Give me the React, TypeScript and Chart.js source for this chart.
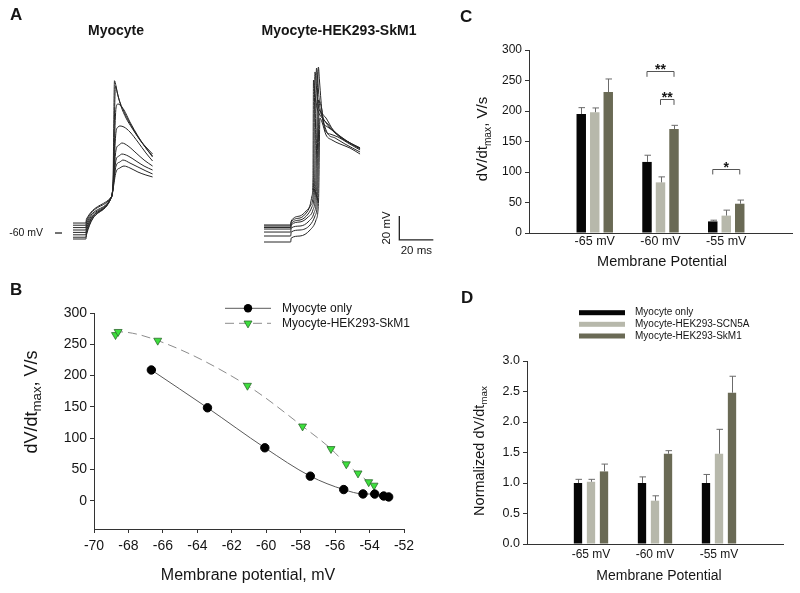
import React, { useEffect, useRef } from 'react';
import { Chart, registerables } from 'chart.js';

Chart.register(...registerables);

const FONT = '"Liberation Sans", Arial, Helvetica, sans-serif';
const INK = '#151515';

// ---------- Panel A: action potential traces, [time ms, membrane potential mV]
const MYO_T1 = [[0,-51.7],[7.6,-51.7],[7.9,-48.4],[22.6,-30],[23.5,-20],[24.4,66.9],[25.3,62.5],[26.5,54.2],[28.2,45.8],[31.2,35.8],[34.7,27.5],[39.4,17.5],[42.9,11.7],[46.8,5.8]];
const MYO_T2 = [[0,-53.5],[7.6,-53.5],[7.9,-50.2],[22.6,-30],[23.5,-22],[25,62.5],[25.9,57.5],[27.6,49.2],[30.6,39.2],[34.7,28.3],[39.4,17.5],[42.9,10.8],[46.8,4.2]];
const MYO_T3 = [[0,-55.5],[7.6,-55.5],[7.9,-52.2],[22.6,-30],[23.5,-22],[25.3,44.2],[26.5,47.5],[27.6,46.7],[30,42.5],[33.5,32.5],[38.2,20.8],[42.9,10.8],[46.8,3.3]];
const MYO_T4 = [[0,-57.5],[7.6,-57.5],[7.9,-54.2],[22.6,-30],[23.5,-22],[25.3,24.2],[26.5,28.3],[27.6,29.2],[30,28.3],[33.5,24.2],[38.2,15.8],[42.9,6.7],[46.8,0]];
const MYO_T5 = [[0,-59.5],[7.6,-59.5],[7.9,-56.2],[22.6,-30],[23.5,-22],[25.3,9.2],[27.1,13.3],[28.8,15],[32.4,12.5],[37.1,6.7],[41.8,0.8],[46.8,-4.2]];
const MYO_T6 = [[0,-61.5],[7.6,-61.5],[7.9,-58.2],[22.6,-30],[23.5,-23],[25.3,0.8],[27.1,4.2],[28.8,5.8],[32.4,4.2],[37.1,0],[41.8,-4.2],[46.8,-7.5]];
const MYO_T7 = [[0,-63.5],[7.6,-63.5],[7.9,-60.2],[22.6,-30],[23.5,-23],[25.3,-4.2],[27.6,-0.8],[29.4,0.8],[33.5,-1.7],[38.2,-5],[42.9,-8.3],[46.8,-10.8]];
const MYO_T8 = [[0,-65],[7.6,-65],[7.9,-61.7],[22.6,-30],[23.5,-24],[25.3,-9.2],[27.6,-5.8],[30,-4.2],[33.5,-5.8],[38.2,-9.2],[42.9,-11.7],[46.8,-13.3]];

const SKM_T1 = [[0,-53.3],[15.7,-53.3],[16,-50],[21.2,-45.8],[24.7,-41.7],[27.1,-36.7],[28.2,-29.2],[28.8,-15.8],[29.1,67.5],[30,55],[31.2,44.2],[32.9,38.3],[35.3,34.2],[38.8,27.5],[44.7,20],[50.6,15],[56.5,10.8]];
const SKM_T2 = [[0,-54.2],[15.7,-54.2],[16,-50.8],[21.2,-47.5],[25.3,-42.5],[27.6,-36.7],[29.1,-24.2],[30,74.2],[30.9,60.8],[31.8,46.7],[33.5,40.8],[36.5,35.8],[40.6,25.8],[44.7,20],[50.6,15],[56.5,10.8]];
const SKM_T3 = [[0,-55.4],[15.7,-55.4],[16,-52.1],[21.2,-49.2],[25.9,-44.2],[28.2,-38.3],[29.7,-24.2],[30.9,77.5],[31.8,63.3],[32.9,44.2],[34.7,35.8],[37.6,30.8],[41.8,24.2],[45.9,19.2],[50.6,15],[56.5,10.8]];
const SKM_T4 = [[0,-56.7],[15.7,-56.7],[16,-53.3],[21.2,-50.8],[25.9,-46.7],[28.8,-40.8],[30.3,-25.8],[32,78.3],[32.6,67.5],[33.5,50.8],[34.7,32.5],[36.5,29.2],[40,25.8],[44.7,20.8],[50.6,15],[56.5,10]];
const SKM_T5 = [[0,-59.2],[15.7,-59.2],[16,-55.8],[21.2,-54.2],[26.5,-50],[29.4,-43.3],[30.9,-28.3],[32.1,50.8],[32.9,49.2],[34.1,42.5],[35.9,25.8],[38.8,22.5],[43.5,20],[49.4,15],[56.5,9.2]];
const SKM_T6 = [[0,-62.5],[15.7,-62.5],[16,-59.2],[21.2,-57.5],[27.1,-53.3],[30,-45.8],[31.5,-30.8],[32.4,42.5],[33.5,40.8],[35.3,30.8],[37.6,22.5],[41.8,19.2],[47.6,14.2],[56.5,7.5]];
const SKM_T7 = [[0,-67.5],[15.7,-67.5],[16,-64.2],[21.2,-62.5],[27.1,-57.5],[30.6,-49.2],[32.1,-32.5],[32.9,35.8],[34.1,32.5],[36.5,21.7],[40,17.5],[44.7,14.2],[50.6,10.8],[56.5,5.8]];

const MYO_TRACES = [MYO_T1, MYO_T2, MYO_T3, MYO_T4, MYO_T5, MYO_T6, MYO_T7, MYO_T8];
const SKM_TRACES = [SKM_T1, SKM_T2, SKM_T3, SKM_T4, SKM_T5, SKM_T6, SKM_T7];
const REF_MV = -60;
const SCALE_MS = 20;
const SCALE_MV = 20;
const SCALE_ORIGIN_MS = 79.6;
const SCALE_ORIGIN_MV = -65.8;

// ---------- Panel B: dV/dt max vs membrane potential
const B_MYO_MV = [-66.67, -63.41, -60.08, -57.44, -55.5, -54.38, -53.7, -53.18, -52.89];
const B_MYO_DVDT = [209, 148.6, 84.7, 39.4, 18, 11, 10.8, 7.7, 6.2];
const B_SKM_MV = [-68.75, -68.6, -66.3, -61.09, -57.89, -56.24, -55.35, -54.67, -54.05, -53.74];
const B_SKM_DVDT = [265, 270, 256, 184, 119, 83, 58.6, 44, 30, 24.5];

// ---------- Panels C & D: grouped bars
const GROUPS = ['-65 mV', '-60 mV', '-55 mV'];
const SERIES = ['Myocyte only', 'Myocyte-HEK293-SCN5A', 'Myocyte-HEK293-SkM1'];
const COLORS = ['#060606', '#b7b8ab', '#6a6a55'];

const C_MYO = [195, 116.5, 19];
const C_SCN = [198, 83, 28.5];
const C_SKM = [231, 170.5, 48];
const C_MYO_ERR = [10.5, 11, 2];
const C_SCN_ERR = [7, 9, 9];
const C_SKM_ERR = [21.5, 6, 6];

const SIG_GROUP = [1, 1, 2];
const SIG_FROM = [0, 1, 0];
const SIG_TO = [2, 2, 2];
const SIG_LEVEL = [265, 219, 105];
const SIG_MARK = ['**', '**', '*'];
const SIG_DROP = 9;

const D_MYO = [1.0, 1.0, 1.0];
const D_SCN = [1.02, 0.71, 1.48];
const D_SKM = [1.19, 1.48, 2.48];
const D_MYO_ERR = [0.06, 0.1, 0.14];
const D_SCN_ERR = [0.04, 0.08, 0.4];
const D_SKM_ERR = [0.12, 0.05, 0.27];

// ---------- helpers
const f = (size: number, bold = false) => `${bold ? 'bold ' : ''}${size}px ${FONT}`;

function txt(ctx: any, s: string, x: number, y: number, size: number, opt: any = {}) {
  ctx.save();
  ctx.font = f(size, !!opt.bold);
  ctx.fillStyle = opt.color || INK;
  ctx.textAlign = opt.align || 'center';
  ctx.textBaseline = opt.baseline || 'middle';
  ctx.translate(x, y);
  if (opt.rotate) ctx.rotate(-Math.PI / 2);
  ctx.fillText(s, 0, 0);
  ctx.restore();
}

function subTitle(ctx: any, x: number, y: number, pre: string, sub: string, post: string, size: number, ratio = 0.68) {
  ctx.save();
  ctx.translate(x, y);
  ctx.rotate(-Math.PI / 2);
  ctx.fillStyle = INK;
  ctx.textBaseline = 'middle';
  ctx.textAlign = 'left';
  const s2 = size * ratio;
  ctx.font = f(size); const w1 = ctx.measureText(pre).width;
  ctx.font = f(s2); const w2 = ctx.measureText(sub).width;
  ctx.font = f(size); const w3 = ctx.measureText(post).width;
  let cx = -(w1 + w2 + w3) / 2;
  ctx.font = f(size); ctx.fillText(pre, cx, 0); cx += w1;
  ctx.font = f(s2); ctx.fillText(sub, cx, size * 0.32); cx += w2;
  ctx.font = f(size); ctx.fillText(post, cx, 0);
  ctx.restore();
}

const xy = (arr: number[][]) => arr.map(([x, y]) => ({ x, y }));

function CanvasChart({ left, top, width, height, make }: any) {
  const ref = useRef<HTMLCanvasElement>(null);
  useEffect(() => {
    if (!ref.current) return;
    const chart = new Chart(ref.current, make());
    return () => chart.destroy();
  }, []);
  return (
    <canvas
      ref={ref}
      width={width}
      height={height}
      style={{ position: 'absolute', left, top, width, height, display: 'block' }}
    />
  );
}

// ---------- Panel A configs
const TRACE_Y_MIN = -90.83;
const TRACE_Y_MAX = 134.17;

function traceConfig(traces: number[][][], xMin: number, xMax: number, extra: any[], plugin: any) {
  return {
    type: 'scatter',
    data: {
      datasets: [
        ...traces.map((tr) => ({
          data: xy(tr),
          showLine: true,
          borderColor: '#262626',
          borderWidth: 1,
          pointRadius: 0,
          cubicInterpolationMode: 'monotone',
          fill: false,
        })),
        ...extra,
      ],
    },
    options: {
      responsive: false,
      animation: false,
      events: [],
      layout: { padding: 0 },
      plugins: { legend: { display: false }, tooltip: { enabled: false } },
      scales: {
        x: { type: 'linear', display: false, min: xMin, max: xMax },
        y: { type: 'linear', display: false, min: TRACE_Y_MIN, max: TRACE_Y_MAX },
      },
    },
    plugins: [plugin],
  };
}

const makeALeft = () =>
  traceConfig(MYO_TRACES, -42.94, 92.35, [], {
    id: 'aLeft',
    afterDraw(chart: any) {
      const { ctx } = chart;
      const yS = chart.scales.y;
      txt(ctx, 'A', 10, 15, 17, { bold: true, align: 'left' });
      txt(ctx, 'Myocyte', 116, 31, 14, { bold: true });
      const y60 = yS.getPixelForValue(REF_MV);
      txt(ctx, '-60 mV', 43, y60, 10.5, { align: 'right' });
      ctx.save();
      ctx.strokeStyle = INK;
      ctx.lineWidth = 1.2;
      ctx.beginPath();
      ctx.moveTo(55, y60);
      ctx.lineTo(62, y60);
      ctx.stroke();
      ctx.restore();
    },
  });

const makeARight = () =>
  traceConfig(
    SKM_TRACES,
    -20,
    115.29,
    [
      {
        data: [
          { x: SCALE_ORIGIN_MS, y: SCALE_ORIGIN_MV + SCALE_MV },
          { x: SCALE_ORIGIN_MS, y: SCALE_ORIGIN_MV },
          { x: SCALE_ORIGIN_MS + SCALE_MS, y: SCALE_ORIGIN_MV },
        ],
        showLine: true,
        borderColor: '#222',
        borderWidth: 1.3,
        pointRadius: 0,
        tension: 0,
      },
    ],
    {
      id: 'aRight',
      afterDraw(chart: any) {
        const { ctx } = chart;
        const xS = chart.scales.x;
        const yS = chart.scales.y;
        txt(ctx, 'Myocyte-HEK293-SkM1', 109, 31, 14, { bold: true });
        const x0 = xS.getPixelForValue(SCALE_ORIGIN_MS);
        const y0 = yS.getPixelForValue(SCALE_ORIGIN_MV);
        txt(ctx, `${SCALE_MV} mV`, x0 - 12, yS.getPixelForValue(SCALE_ORIGIN_MV + SCALE_MV / 2), 11.5, { rotate: true });
        txt(ctx, `${SCALE_MS} ms`, xS.getPixelForValue(SCALE_ORIGIN_MS + SCALE_MS / 2), y0 + 11, 11.5);
      },
    }
  );

// ---------- Panel B config
const axisCommon = (size: number) => ({
  grid: { display: true, drawOnChartArea: false, drawTicks: true, tickLength: 4, color: '#333' },
  border: { display: true, color: '#333', width: 1 },
  ticks: { font: { family: FONT, size }, color: INK, maxRotation: 0, autoSkip: false },
});

function drawTri(ctx: any, x: number, y: number, r: number, fill: string, stroke: string) {
  const s = Math.sin(Math.PI / 3) * r;
  ctx.beginPath();
  ctx.moveTo(x, y + r);
  ctx.lineTo(x - s, y - r / 2);
  ctx.lineTo(x + s, y - r / 2);
  ctx.closePath();
  ctx.fillStyle = fill;
  ctx.fill();
  ctx.strokeStyle = stroke;
  ctx.lineWidth = 0.8;
  ctx.stroke();
}

const makeB = () => {
  const xc = axisCommon(14);
  const yc = axisCommon(14);
  return {
    type: 'scatter',
    data: {
      datasets: [
        {
          label: 'Myocyte only',
          data: B_MYO_MV.map((x, i) => ({ x, y: B_MYO_DVDT[i] })),
          showLine: true,
          borderColor: '#5a5a5a',
          borderWidth: 1,
          pointStyle: 'circle',
          pointRadius: 4.2,
          pointBackgroundColor: '#000',
          pointBorderColor: '#000',
          cubicInterpolationMode: 'monotone',
        },
        {
          label: 'Myocyte-HEK293-SkM1',
          data: B_SKM_MV.map((x, i) => ({ x, y: B_SKM_DVDT[i] })),
          showLine: true,
          borderColor: '#8c8c8c',
          borderDash: [9, 5],
          borderWidth: 1,
          pointStyle: 'triangle',
          pointRotation: 180,
          pointRadius: 4.6,
          pointBackgroundColor: '#3ddf3d',
          pointBorderColor: '#2d6a2d',
          pointBorderWidth: 0.8,
          cubicInterpolationMode: 'monotone',
        },
      ],
    },
    options: {
      responsive: false,
      animation: false,
      events: [],
      layout: { padding: { top: 33, right: 36, bottom: 0, left: 0 } },
      plugins: { legend: { display: false }, tooltip: { enabled: false } },
      scales: {
        x: {
          type: 'linear',
          min: -70,
          max: -52,
          ...xc,
          ticks: { ...xc.ticks, stepSize: 2, padding: 5 },
          afterFit: (s: any) => { s.height = 64; },
        },
        y: {
          type: 'linear',
          min: -45,
          max: 300,
          ...yc,
          ticks: { ...yc.ticks, stepSize: 50, padding: 3 },
          afterBuildTicks: (s: any) => { s.ticks = s.ticks.filter((t: any) => t.value >= 0); },
          afterFit: (s: any) => { s.width = 94; },
        },
      },
    },
    plugins: [
      {
        id: 'bDeco',
        afterDraw(chart: any) {
          const { ctx } = chart;
          txt(ctx, 'B', 10, 10, 17, { bold: true, align: 'left' });
          subTitle(ctx, 32, 122, 'dV/dt', 'max', ', V/s', 18, 0.74);
          txt(ctx, 'Membrane potential, mV', 248, 296, 16);
          // legend
          const rows = [28.3, 43.3];
          ctx.save();
          ctx.strokeStyle = '#5a5a5a';
          ctx.lineWidth = 1;
          ctx.beginPath();
          ctx.moveTo(225, rows[0]);
          ctx.lineTo(271, rows[0]);
          ctx.stroke();
          ctx.fillStyle = '#000';
          ctx.beginPath();
          ctx.arc(248, rows[0], 4.2, 0, Math.PI * 2);
          ctx.fill();
          ctx.strokeStyle = '#8c8c8c';
          ctx.setLineDash([9, 5]);
          ctx.beginPath();
          ctx.moveTo(225, rows[1]);
          ctx.lineTo(271, rows[1]);
          ctx.stroke();
          ctx.setLineDash([]);
          drawTri(ctx, 248, rows[1], 4.6, '#3ddf3d', '#2d6a2d');
          ctx.restore();
          txt(ctx, 'Myocyte only', 282, rows[0], 12, { align: 'left' });
          txt(ctx, 'Myocyte-HEK293-SkM1', 282, rows[1], 12, { align: 'left' });
        },
      },
    ],
  };
};

// ---------- Bar chart builder (C & D)
function errorBars(chart: any, errs: number[][]) {
  const { ctx } = chart;
  const yS = chart.scales.y;
  ctx.save();
  ctx.strokeStyle = '#6b6b6b';
  ctx.lineWidth = 1;
  chart.data.datasets.forEach((ds: any, d: number) => {
    const meta = chart.getDatasetMeta(d);
    ds.data.forEach((v: any, i: number) => {
      if (v === null || v === undefined) return;
      const el = meta.data[i];
      const e = errs[d][i - 1];
      const yTop = yS.getPixelForValue(v + e);
      const x = Math.round(el.x) + 0.5;
      ctx.beginPath();
      ctx.moveTo(x, el.y);
      ctx.lineTo(x, yTop);
      ctx.moveTo(x - 3, yTop);
      ctx.lineTo(x + 3.5, yTop);
      ctx.stroke();
    });
  });
  ctx.restore();
}

function barConfig(opts: any) {
  const xc = axisCommon(opts.xFont);
  const yc = axisCommon(opts.yFont);
  return {
    type: 'bar',
    data: {
      labels: ['', ...GROUPS, ''],
      datasets: opts.values.map((vals: number[], i: number) => ({
        label: SERIES[i],
        data: [null, ...vals, null],
        backgroundColor: COLORS[i],
        borderWidth: 0,
        barPercentage: opts.barPct,
        categoryPercentage: opts.catPct,
      })),
    },
    options: {
      responsive: false,
      animation: false,
      events: [],
      layout: { padding: { top: opts.top, right: opts.right, bottom: 0, left: 0 } },
      plugins: { legend: { display: false }, tooltip: { enabled: false } },
      scales: {
        x: {
          type: 'category',
          offset: false,
          grid: { display: false, drawTicks: false },
          border: { display: true, color: '#333', width: 1 },
          ticks: { ...xc.ticks, padding: opts.xPad },
          afterFit: (s: any) => { s.height = opts.xHeight; },
        },
        y: {
          type: 'linear',
          min: 0,
          max: opts.yMax,
          ...yc,
          ticks: { ...yc.ticks, stepSize: opts.yStep, padding: 3, callback: opts.yFmt },
          afterFit: (s: any) => { s.width = opts.yWidth; },
        },
      },
    },
    plugins: [
      {
        id: 'barDeco',
        afterDatasetsDraw(chart: any) {
          errorBars(chart, opts.errs);
        },
        afterDraw(chart: any) {
          opts.deco(chart);
        },
      },
    ],
  };
}

const makeC = () =>
  barConfig({
    values: [C_MYO, C_SCN, C_SKM],
    errs: [C_MYO_ERR, C_SCN_ERR, C_SKM_ERR],
    yMax: 300,
    yStep: 50,
    yFmt: (v: number) => String(v),
    xFont: 12.5,
    yFont: 12,
    xPad: 1,
    top: 50,
    right: 8,
    xHeight: 47,
    yWidth: 89,
    barPct: 0.7,
    catPct: 0.616,
    deco(chart: any) {
      const { ctx } = chart;
      const yS = chart.scales.y;
      txt(ctx, 'C', 20, 17, 17, { bold: true, align: 'left' });
      subTitle(ctx, 43, 139, 'dV/dt', 'max', ', V/s', 15);
      txt(ctx, 'Membrane Potential', 222, 262, 14.5);
      ctx.save();
      ctx.strokeStyle = '#555';
      ctx.lineWidth = 1;
      SIG_GROUP.forEach((g, k) => {
        const a = chart.getDatasetMeta(SIG_FROM[k]).data[g + 1];
        const b = chart.getDatasetMeta(SIG_TO[k]).data[g + 1];
        const y = Math.round(yS.getPixelForValue(SIG_LEVEL[k])) + 0.5;
        const yd = yS.getPixelForValue(SIG_LEVEL[k] - SIG_DROP);
        ctx.beginPath();
        ctx.moveTo(a.x, yd);
        ctx.lineTo(a.x, y);
        ctx.lineTo(b.x, y);
        ctx.lineTo(b.x, yd);
        ctx.stroke();
        txt(ctx, SIG_MARK[k], (a.x + b.x) / 2, y + 2.5, 14, { bold: true, baseline: 'alphabetic' });
      });
      ctx.restore();
    },
  });

const makeD = () =>
  barConfig({
    values: [D_MYO, D_SCN, D_SKM],
    errs: [D_MYO_ERR, D_SCN_ERR, D_SKM_ERR],
    yMax: 3,
    yStep: 0.5,
    yFmt: (v: number) => Number(v).toFixed(1),
    xFont: 12,
    yFont: 12.5,
    xPad: 3,
    top: 81,
    right: 17,
    xHeight: 49,
    yWidth: 87,
    barPct: 0.64,
    catPct: 0.61,
    deco(chart: any) {
      const { ctx } = chart;
      txt(ctx, 'D', 21, 18, 17, { bold: true, align: 'left' });
      subTitle(ctx, 40, 171, 'Normalized dV/dt', 'max', '', 14.5);
      txt(ctx, 'Membrane Potential', 219, 296, 14);
      const rows = [32.7, 44.3, 56];
      SERIES.forEach((name, i) => {
        ctx.save();
        ctx.fillStyle = COLORS[i];
        ctx.fillRect(139, rows[i] - 2.5, 46, 5);
        ctx.restore();
        txt(ctx, name, 195, rows[i], 10, { align: 'left' });
      });
    },
  });

export default function App() {
  return (
    <div style={{ position: 'absolute', left: 0, top: 0, width: 800, height: 593, background: '#fff', overflow: 'hidden' }}>
      <CanvasChart left={0} top={0} width={230} height={270} make={makeALeft} />
      <CanvasChart left={230} top={0} width={230} height={270} make={makeARight} />
      <CanvasChart left={440} top={0} width={360} height={280} make={makeC} />
      <CanvasChart left={0} top={280} width={440} height={313} make={makeB} />
      <CanvasChart left={440} top={280} width={360} height={313} make={makeD} />
    </div>
  );
}
